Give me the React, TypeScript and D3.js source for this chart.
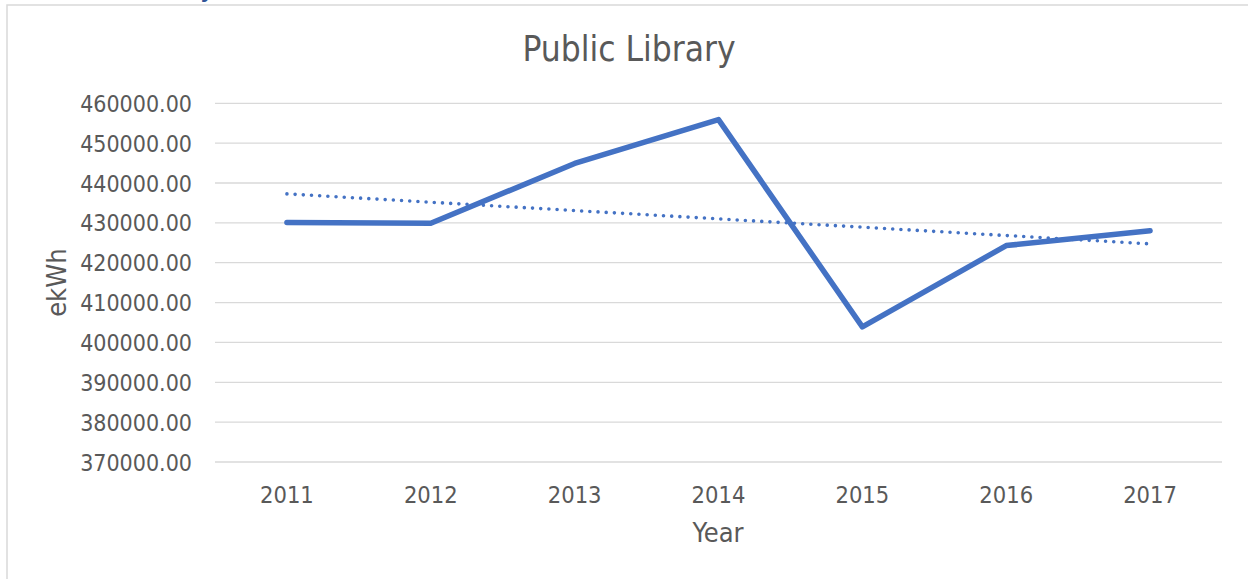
import React from "react";
import * as d3 from "d3";

const years = ["2011", "2012", "2013", "2014", "2015", "2016", "2017"];
const ekwh = [430100, 429900, 444900, 455900, 403900, 424300, 428000];
const yTicks = [370000, 380000, 390000, 400000, 410000, 420000, 430000, 440000, 450000, 460000];
const title = "Public Library";
const xTitle = "Year";
const yTitle = "ekWh";

const FONT = "Tahoma, 'DejaVu Sans Condensed', 'Liberation Sans', sans-serif";
const BLUE = "#4472C4";
const GRAY_TEXT = "#595959";

export default function App() {
  const W = 1248, H = 579;
  const left = 215, right = 1222, top = 103.3, bottom = 462;

  const x = d3.scalePoint<string>().domain(years).range([left, right]).padding(0.5);
  const y = d3.scaleLinear().domain([370000, 460000]).range([bottom, top]);

  const line = d3.line<number>()
    .x((_, i) => x(years[i]) as number)
    .y((d) => y(d));

  // linear trendline (least squares)
  const idx = ekwh.map((_, i) => i);
  const mx = d3.mean(idx) as number;
  const my = d3.mean(ekwh) as number;
  const slope = d3.sum(idx, (i) => (i - mx) * (ekwh[i] - my)) / d3.sum(idx, (i) => (i - mx) ** 2);
  const trend = idx.map((i) => my + slope * (i - mx));

  return (
    <svg width={W} height={H} style={{ position: "absolute", left: 0, top: 0, background: "#fff" }}>
      <rect x={0} y={0} width={W} height={H} fill="#fff" />
      <text x={200} y={-4} fontFamily={FONT} fontSize={30} fill="#2F5597">y</text>
      <rect x={7} y={5} width={1400} height={800} fill="none" stroke="#d9d9d9" strokeWidth={1.5} />
      <text x={629} y={61} textAnchor="middle" fontFamily={FONT} fontSize={35} fill={GRAY_TEXT}>{title}</text>
      {yTicks.map((t) => (
        <g key={t}>
          <line x1={left} x2={right} y1={y(t)} y2={y(t)} stroke="#d9d9d9" strokeWidth={1.3} />
          <text x={192} y={y(t) + 8.5} textAnchor="end" fontFamily={FONT} fontSize={23} fill={GRAY_TEXT}>
            {d3.format(".2f")(t)}
          </text>
        </g>
      ))}
      {years.map((yr) => (
        <text key={yr} x={x(yr)} y={503} textAnchor="middle" fontFamily={FONT} fontSize={23.5} fill={GRAY_TEXT}>
          {yr}
        </text>
      ))}
      <path d={line(trend) || ""} fill="none" stroke={BLUE} strokeWidth={3.6} strokeDasharray="0 8.2" strokeLinecap="round" />
      <path d={line(ekwh) || ""} fill="none" stroke={BLUE} strokeWidth={5.5} strokeLinecap="round" strokeLinejoin="round" />
      <text x={718} y={542} textAnchor="middle" fontFamily={FONT} fontSize={27} fill={GRAY_TEXT}>{xTitle}</text>
      <text transform={`translate(66,${(top + bottom) / 2}) rotate(-90)`} textAnchor="middle" fontFamily={FONT} fontSize={27} fill={GRAY_TEXT}>
        {yTitle}
      </text>
    </svg>
  );
}
